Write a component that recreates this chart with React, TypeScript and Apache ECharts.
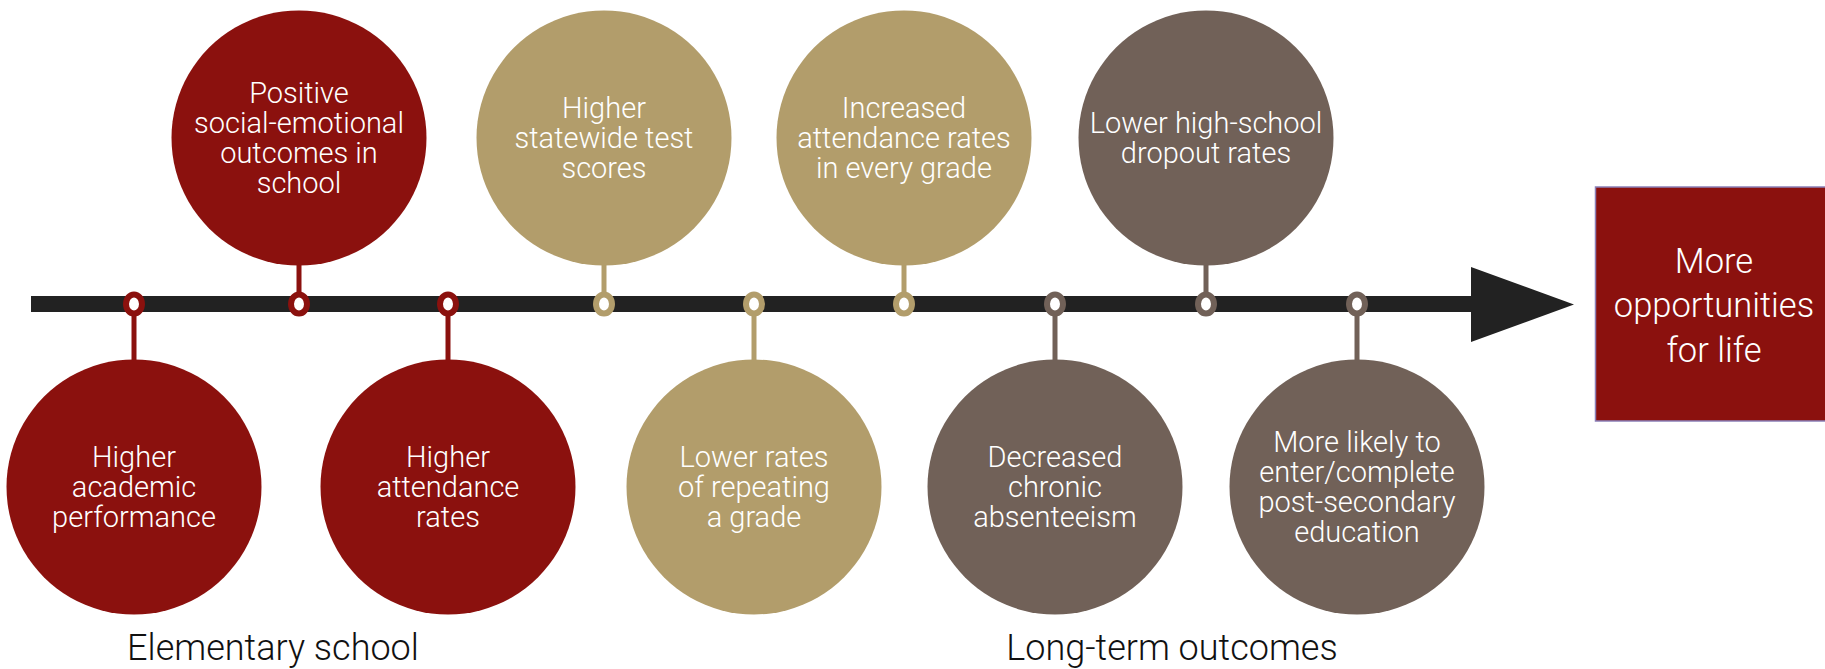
import React, { useEffect, useRef } from "react";
import * as echarts from "echarts";

// ---- data ----
const outcomeLabels: string[] = [
  "Higher\nacademic\nperformance",
  "Positive\nsocial-emotional\noutcomes in\nschool",
  "Higher\nattendance\nrates",
  "Higher\nstatewide test\nscores",
  "Lower rates\nof repeating\na grade",
  "Increased\nattendance rates\nin every grade",
  "Decreased\nchronic\nabsenteeism",
  "Lower high-school\ndropout rates",
  "More likely to\nenter/complete\npost-secondary\neducation",
];
// position along the timeline (axis units)
const timelinePos: number[] = [134, 299, 448, 604, 754, 904, 1055, 1206, 1357];
const outcomeSide: string[] = ["bottom", "top", "bottom", "top", "bottom", "top", "bottom", "top", "bottom"];
const outcomeGroup: number[] = [0, 0, 0, 1, 1, 1, 2, 2, 2];
const timelineSpan: number[] = [31, 1480];
const stageLabels: string[] = ["Elementary school", "Long-term outcomes"];
const finalLabel = "More\nopportunities\nfor life";

// ---- styles ----
const groupColors = ["#8b110e", "#b29d6b", "#716158"];
const FONT = "Roboto, 'Helvetica Neue', Arial, sans-serif";

export default function App() {
  const ref = useRef<HTMLDivElement>(null);
  useEffect(() => {
    if (!ref.current) return;
    const chart = echarts.init(ref.current, undefined, { renderer: "svg" });
    const R = 127.5;
    const option: any = {
      animation: false,
      backgroundColor: "#ffffff",
      grid: { left: 0, top: 0, width: 1825, height: 608, containLabel: false },
      xAxis: { type: "value", min: 0, max: 1825, show: false },
      yAxis: { type: "value", min: -1, max: 1, show: false },
      graphic: [
        {
          type: "polygon",
          z: 1,
          shape: { points: [[1471, 267], [1574, 304.5], [1471, 342]] },
          style: { fill: "#222222" },
        },
        {
          type: "rect",
          z: 1,
          shape: { x: 1595.5, y: 187, width: 240, height: 234 },
          style: { fill: "#8b110e", stroke: "#8b80b8", lineWidth: 1.5 },
        },
        {
          type: "text",
          z: 2,
          style: {
            text: finalLabel,
            x: 1714,
            y: 305,
            align: "center",
            verticalAlign: "middle",
            fill: "#ffffff",
            fontFamily: FONT,
            fontWeight: 300,
            fontSize: 34.5,
            lineHeight: 44.5,
          },
        },
        {
          type: "text",
          z: 2,
          style: {
            text: stageLabels[0],
            x: 273,
            y: 648,
            align: "center",
            verticalAlign: "middle",
            fill: "#111111",
            fontFamily: FONT,
            fontWeight: 300,
            fontSize: 36,
          },
        },
        {
          type: "text",
          z: 2,
          style: {
            text: stageLabels[1],
            x: 1172,
            y: 648,
            align: "center",
            verticalAlign: "middle",
            fill: "#111111",
            fontFamily: FONT,
            fontWeight: 300,
            fontSize: 36,
          },
        },
      ],
      series: [
        {
          type: "line",
          z: 2,
          symbol: "none",
          silent: true,
          data: [
            [timelineSpan[0], 0],
            [timelineSpan[1], 0],
          ],
          lineStyle: { color: "#222222", width: 16, cap: "butt" },
        },
        {
          type: "custom",
          z: 3,
          data: timelinePos.map((p, i) => [p, 0, i]),
          renderItem: (params: any, api: any) => {
            const i = params.dataIndex;
            const pt = api.coord([api.value(0), 0]);
            const cx = pt[0];
            const cy0 = pt[1];
            const color = groupColors[outcomeGroup[i]];
            const top = outcomeSide[i] === "top";
            const cy = top ? cy0 - 166 : cy0 + 183;
            const stemEnd = top ? cy + R - 3 : cy - R + 3;
            return {
              type: "group",
              children: [
                {
                  type: "line",
                  shape: { x1: cx, y1: cy0, x2: cx, y2: stemEnd },
                  style: { stroke: color, lineWidth: 5 },
                },
                {
                  type: "circle",
                  shape: { cx, cy, r: R },
                  style: { fill: color },
                },
                {
                  type: "text",
                  style: {
                    text: outcomeLabels[i],
                    x: cx,
                    y: cy,
                    align: "center",
                    verticalAlign: "middle",
                    fill: "#ffffff",
                    fontFamily: FONT,
                    fontWeight: 300,
                    fontSize: 29,
                    lineHeight: 30,
                  },
                },
                {
                  type: "ellipse",
                  shape: { cx, cy: cy0, rx: 8, ry: 9.5 },
                  style: { fill: "#ffffff", stroke: color, lineWidth: 6 },
                },
              ],
            };
          },
        },
      ],
    };
    chart.setOption(option);
    return () => chart.dispose();
  }, []);
  return (
    <div
      ref={ref}
      style={{ position: "fixed", left: 0, top: 0, width: 1825, height: 669, background: "#fff" }}
    />
  );
}
